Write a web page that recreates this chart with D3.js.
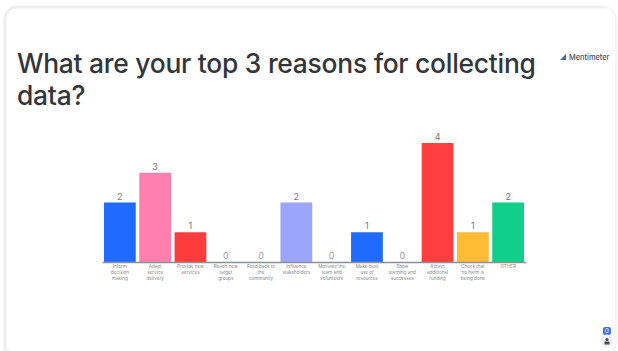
<!DOCTYPE html>
<html>
<head>
<meta charset="utf-8">
<script src="https://cdn.jsdelivr.net/npm/d3@7/dist/d3.min.js"></script>
<style>
  html, body { margin: 0; padding: 0; background: #fff; }
  svg { display: block; }
  text { font-family: Inter, "Noto Sans", sans-serif; }
</style>
</head>
<body>
<svg id="chart" width="618" height="351"></svg>
<script>
const categories = [
  ["Inform", "decision", "making"],
  ["Adapt", "service", "delivery"],
  ["Provide new", "services"],
  ["Reach new", "target", "groups"],
  ["Feed back to", "the", "community"],
  ["Influence", "stakeholders"],
  ["Motivate the", "team and", "volunteers"],
  ["Make best", "use of", "resources"],
  ["Show", "learning and", "successes"],
  ["Attract", "additional", "funding"],
  ["Check that", "no harm is", "being done"],
  ["OTHER"]
];
const votes = [2, 3, 1, 0, 0, 2, 0, 1, 0, 4, 1, 2];
const barColors = ["#1f6bff", "#ff7fad", "#ff3b3b", "#8f9bff", "#8f9bff", "#9aa5fb",
                   "#1f6bff", "#1f6bff", "#1f6bff", "#ff3f3f", "#ffbb33", "#0fcf8a"];
const titleLines = ["What are your top 3 reasons for collecting", "data?"];

const svg = d3.select("#chart");

// Slide card: heavier on the top and left, faint on the right, open at the bottom
svg.append("rect")
  .attr("x", 5).attr("y", 7).attr("width", 611).attr("height", 347)
  .attr("rx", 12)
  .attr("fill", "#fff").attr("stroke", "#f4f4f4").attr("stroke-width", 1.5);
svg.append("path")
  .attr("d", "M5,351V19A12,12 0 0 1 17,7H604")
  .attr("fill", "none").attr("stroke", "#efefef").attr("stroke-width", 3);

// Heading
svg.append("g").selectAll("text").data(titleLines).join("text")
  .attr("x", 17)
  .attr("y", (d, i) => 72.5 + i * 32.5)
  .attr("font-size", 26.4)
  .attr("font-weight", 500)
  .attr("letter-spacing", -0.25)
  .attr("fill", "#33353d")
  .text(d => d);

// Brand mark, upper right
const brand = svg.append("g");
brand.append("path")
  .attr("d", d3.line()([[560, 60], [566, 54], [566, 60]]) + "Z")
  .attr("fill", "#4a63b8");
brand.append("text").attr("x", 569).attr("y", 59.5)
  .attr("font-size", 7.4).attr("font-weight", 500).attr("fill", "#4a4e5c")
  .text("Mentimeter");

// Bars
const x = d3.scaleBand()
  .domain(d3.range(votes.length))
  .range([102.2, 525.8])
  .paddingInner(0.1)
  .paddingOuter(0.05);
const y = d3.scaleLinear().domain([0, 4]).range([262, 143]);

svg.append("g").selectAll("rect").data(votes).join("rect")
  .attr("x", (d, i) => x(i))
  .attr("y", d => y(d))
  .attr("width", x.bandwidth())
  .attr("height", d => y(0) - y(d))
  .attr("fill", (d, i) => barColors[i]);

// Value labels
svg.append("g").selectAll("text").data(votes).join("text")
  .attr("x", (d, i) => x(i) + x.bandwidth() / 2)
  .attr("y", d => y(d) - 3)
  .attr("text-anchor", "middle")
  .attr("font-size", 9)
  .attr("fill", d => d === 0 ? "#9a9da1" : "#74777c")
  .text(d => d);

// Baseline and category labels
const axis = d3.axisBottom(x).tickSize(0).tickPadding(0).tickFormat("");
const axisG = svg.append("g").attr("transform", `translate(0,${y(0)})`).call(axis);
axisG.select(".domain").attr("stroke", "#8b9096").attr("stroke-width", 1.3);

axisG.selectAll(".tick").each(function (d) {
  const label = d3.select(this).append("text")
    .attr("text-anchor", "middle")
    .attr("font-size", 4.6)
    .attr("fill", "#85888d");
  label.selectAll("tspan").data(categories[d]).join("tspan")
    .attr("x", 0)
    .attr("y", (t, i) => 5.5 + i * 6)
    .text(t => t);
});

// Presenter badges, lower right
svg.append("rect").attr("x", 603).attr("y", 327).attr("width", 8).attr("height", 8).attr("rx", 2).attr("fill", "#3f78e0");
svg.append("text").attr("x", 607).attr("y", 333.2).attr("text-anchor", "middle")
  .attr("font-size", 6).attr("fill", "#fff").text("0");
svg.append("circle").attr("cx", 607).attr("cy", 341).attr("r", 6.5).attr("fill", "#f0f0f0");
svg.append("circle").attr("cx", 607).attr("cy", 339.5).attr("r", 1.6).attr("fill", "#454a55");
svg.append("rect").attr("x", 604.5).attr("y", 341.5).attr("width", 5).attr("height", 3).attr("fill", "#454a55");
</script>
</body>
</html>
